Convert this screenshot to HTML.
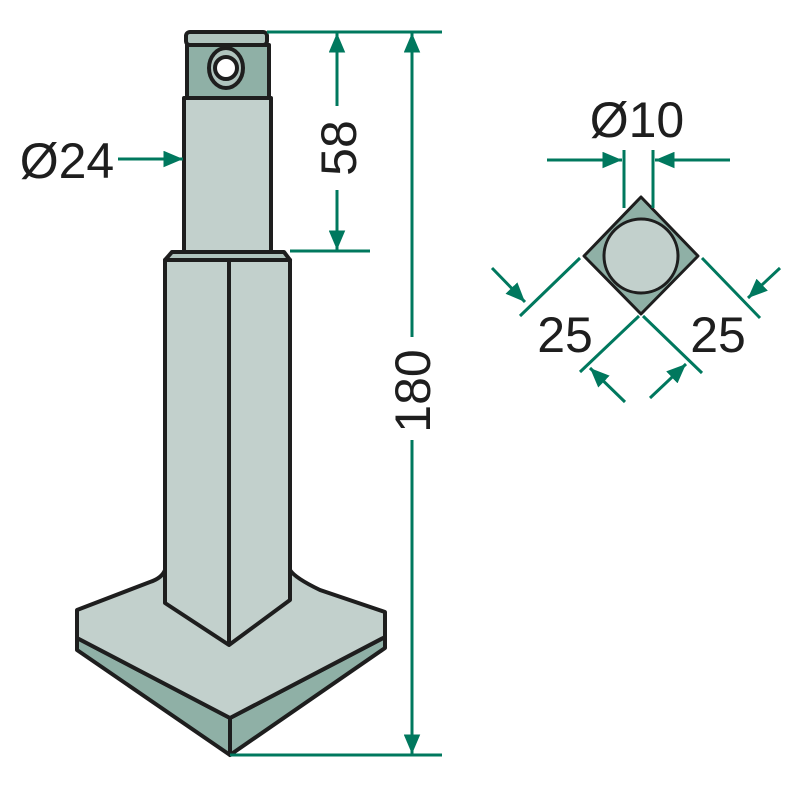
<!DOCTYPE html>
<html><head><style>body{margin:0;background:#fff}svg{display:block}</style></head>
<body>
<svg width="800" height="800" viewBox="0 0 800 800" xmlns="http://www.w3.org/2000/svg">
<defs>
<marker id="a" viewBox="0 0 10 10" refX="10" refY="5" markerWidth="6.5" markerHeight="5.5" orient="auto-start-reverse" markerUnits="strokeWidth" preserveAspectRatio="none"><path d="M0,0 L10,5 L0,10 z" fill="#00785e"/></marker>
</defs>
<g stroke="#1e1e1e" stroke-width="4" stroke-linejoin="round">
<polygon points="77,638 230,718 230,755 77,650" fill="#8fb0a6"/>
<polygon points="230,718 385,637 385,648 230,755" fill="#8fb0a6"/>
<path d="M77,610 L150,582 Q162,578 165,570 L290,570 Q295,578 320,590 L385,612 L385,637 L230,718 L77,638 Z" fill="#c2d0cc"/>
<polygon points="165,260 290,260 290,600 229,645 165,603" fill="#c2d0cc"/>
<line x1="229" y1="260" x2="229" y2="645"/>
<polygon points="172,252 284,252 290,260 165,260" fill="#b0c4be"/>
<rect x="184" y="98" width="87" height="154" fill="#c2d0cc"/>
<rect x="187" y="45" width="82" height="53" fill="#8fb0a6"/>
<rect x="186" y="32" width="81" height="13" rx="4" fill="#b0c4be"/>
<ellipse cx="226" cy="68" rx="17" ry="20" fill="#b0c4be"/>
<circle cx="226" cy="68" r="11" fill="#fff"/>
<polygon points="641,197 698,256 641,314 584,256" fill="#8fb0a6" stroke-width="3"/>
<circle cx="641" cy="256" r="37" fill="#c2d0cc" stroke-width="3"/>
</g>
<g stroke="#00785e" stroke-width="3" fill="none">
<line x1="267" y1="32" x2="442" y2="32"/>
<line x1="230" y1="755" x2="442" y2="755"/>
<line x1="290" y1="251" x2="370" y2="251"/>
<line x1="412" y1="33" x2="412" y2="337" marker-start="url(#a)"/>
<line x1="412" y1="440" x2="412" y2="754" marker-end="url(#a)"/>
<line x1="337" y1="33" x2="337" y2="106" marker-start="url(#a)"/>
<line x1="337" y1="190" x2="337" y2="250" marker-end="url(#a)"/>
<line x1="118" y1="159" x2="183" y2="159" marker-end="url(#a)"/>
<line x1="624" y1="150" x2="624" y2="208"/>
<line x1="653" y1="150" x2="653" y2="208"/>
<line x1="547" y1="160" x2="622" y2="160" marker-end="url(#a)"/>
<line x1="730" y1="160" x2="655" y2="160" marker-end="url(#a)"/>
<line x1="580" y1="258" x2="520" y2="316"/>
<line x1="639" y1="316" x2="580" y2="372"/>
<line x1="643" y1="316" x2="702" y2="373"/>
<line x1="702" y1="258" x2="760" y2="318"/>
<line x1="492" y1="268" x2="525" y2="302" marker-end="url(#a)"/>
<line x1="780" y1="268" x2="748" y2="298" marker-end="url(#a)"/>
<line x1="625" y1="402" x2="590" y2="368" marker-end="url(#a)"/>
<line x1="650" y1="398" x2="686" y2="364" marker-end="url(#a)"/>
</g>
<g font-family="Liberation Sans, sans-serif" font-size="50" fill="#1e1e1e" text-anchor="middle">
<text x="67" y="178">Ø24</text>
<text transform="translate(356,148) rotate(-90)">58</text>
<text transform="translate(430,391) rotate(-90)">180</text>
<text x="637" y="137">Ø10</text>
<text x="565" y="352">25</text>
<text x="718" y="352">25</text>
</g>
</svg>
</body></html>
